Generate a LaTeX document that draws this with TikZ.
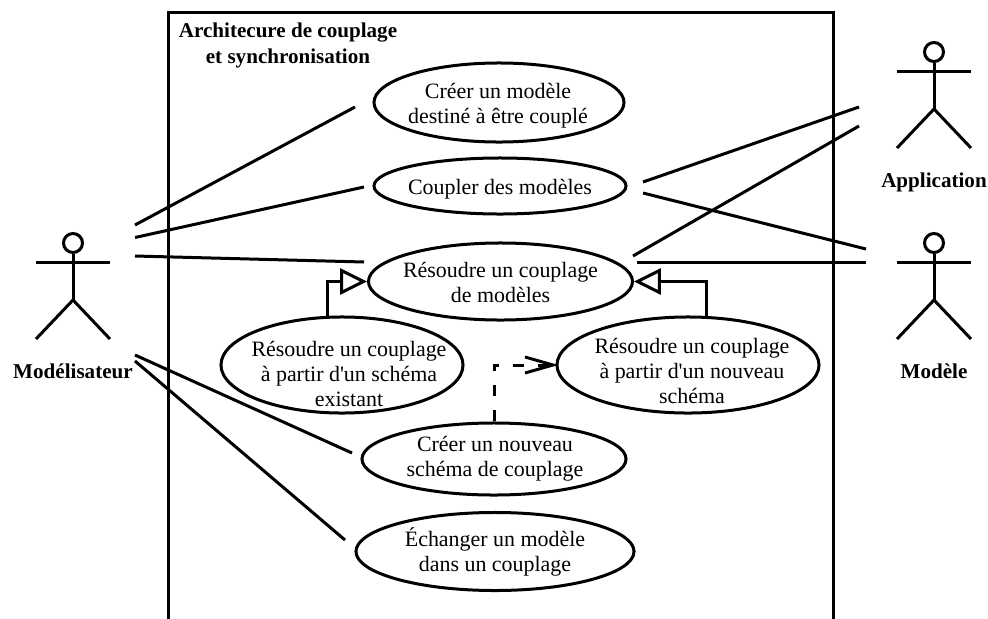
\documentclass[tikz,border=0pt]{standalone}
\usepackage{fontspec}
\setmainfont{Liberation Serif}
\usetikzlibrary{shapes.geometric,arrows.meta}
\tikzset{
 usecase/.style={ellipse,draw,inner sep=0pt},
 casetext/.style={align=center,font=\fontsize{15.6}{17.8}\selectfont},
 boldtext/.style={align=center,font=\fontsize{15}{18.5}\selectfont\bfseries},
 geneline/.style={-{Triangle[open,length=6.7mm,width=6.5mm]}},
 depline/.style={dash pattern=on 2.75mm off 3.5mm,shorten >=-.75mm,-{Straight Barb[length=7mm,width=4mm]}}
}
\begin{document}
\begin{tikzpicture}[x=.025cm,y=-.025cm,line width=.75mm]
\useasboundingbox (0,0) rectangle (988,619);
%Cadre
\draw (168,619)--(168,12)--(833,12)--(833,619);
\node[boldtext] (titre) at (288,45) {Architecure de couplage\\et synchronisation};
%Cas
\node[usecase,minimum width=6.25cm,minimum height=1.975cm,label={[casetext,xshift=-.25mm,yshift=-.75mm]center:Créer un modèle\\destiné à être couplé}] (creer) at (499,102.5) {};
\node[usecase,minimum width=6.3cm,minimum height=1.4cm,label={[casetext,yshift=-.75mm]center:Coupler des modèles}] (coupler) at (500,186) {};
\node[usecase,minimum width=6.6cm,minimum height=1.925cm,label={[casetext,yshift=-.25mm]center:Résoudre un couplage\\de modèles}] (resoudre) at (500.5,281.5) {};
\node[usecase,minimum width=6.05cm,minimum height=2.4cm,label={[casetext,xshift=1.75mm,yshift=-2.25mm]center:Résoudre un couplage\\à partir d\textquotesingle un schéma\\existant}] (existant) at (342,365) {};
\node[usecase,minimum width=6.55cm,minimum height=2.4cm,label={[casetext,xshift=1mm,yshift=-1.5mm]center:Résoudre un couplage\\à partir d\textquotesingle un nouveau\\schéma}] (nouveau) at (688,365) {};
\node[usecase,minimum width=6.6cm,minimum height=1.8cm,label={[casetext,xshift=.25mm]center:Créer un nouveau\\schéma de couplage}] (schema) at (494,459) {};
\node[usecase,minimum width=6.95cm,minimum height=1.95cm,label={[casetext]center:Échanger un modèle\\dans un couplage}] (echanger) at (495,551.5) {};
%Acteurs
\foreach \name/\x/\y/\txt in {model/73/243/Modélisateur,appli/934/52/Application,modele/934/243/Modèle}{
 \node[circle,draw,minimum size=.475cm,inner sep=0pt] (\name) at (\x,\y) {};
 \draw (\name.south)--++(0,47);
 \draw (\x-37,\y+19)--++(74,0);
 \draw (\x-37,\y+96)--(\x,\y+57)--(\x+37,\y+96);
 \node[boldtext,anchor=base] (\name txt) at (\x,\y+135.5) {\txt};
}
%Extremites
\coordinate (m1) at (135,225);
\coordinate (m2) at (135,237.5);
\coordinate (m3) at (135,256);
\coordinate (m4) at (135,355);
\coordinate (m5) at (135,361);
\coordinate (c1) at (355,107);
\coordinate (c2) at (364,187);
\coordinate (c3) at (364,262);
\coordinate (c4) at (352,453);
\coordinate (c5) at (345,540);
\coordinate (a1) at (859,107);
\coordinate (a2) at (859,126);
\coordinate (b1) at (866,249);
\coordinate (b2) at (866,262);
\coordinate (d1) at (643,182);
\coordinate (d2) at (643,193);
\coordinate (d3) at (633,256);
\coordinate (d4) at (637,262);
\coordinate (g1) at (327,317);
\coordinate (g2) at (706,317);
%Liens
\draw (m1)--(c1);
\draw (m2)--(c2);
\draw (m3)--(c3);
\draw (m4)--(c4);
\draw (m5)--(c5);
\draw (d1)--(a1);
\draw (d3)--(a2);
\draw (d2)--(b1);
\draw (d4)--(b2);
\draw[geneline] (g1)|-(resoudre.west);
\draw[geneline] (g2)|-(resoudre.east);
\draw[depline] (schema.north)|-(nouveau.west);
\end{tikzpicture}
\end{document}
